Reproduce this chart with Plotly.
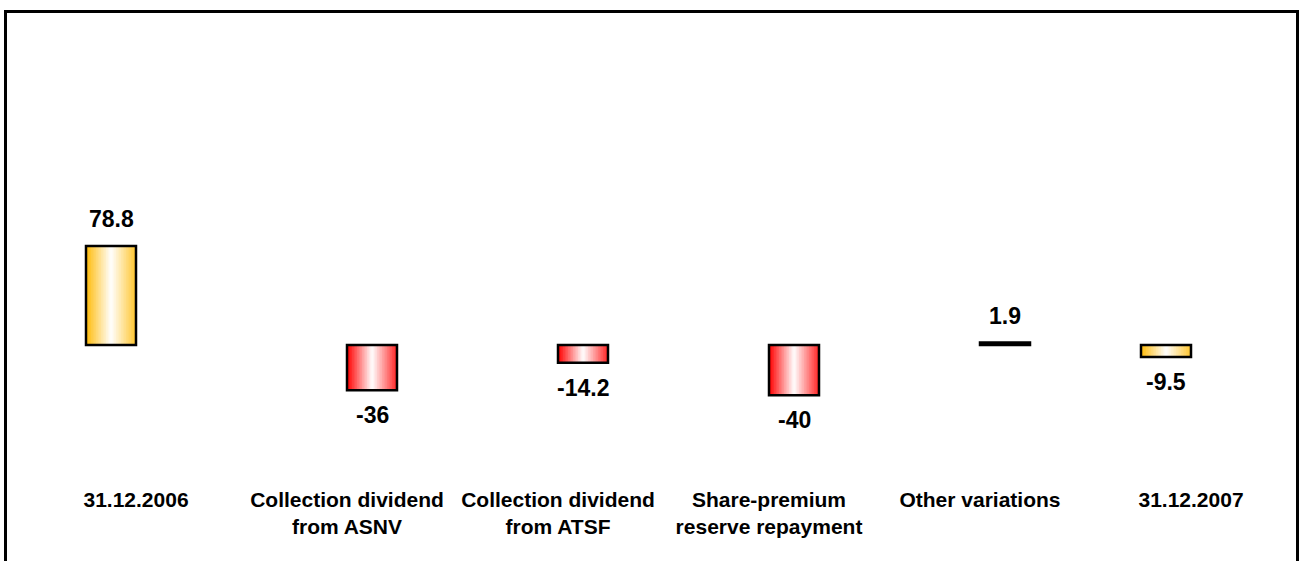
import plotly.graph_objects as go

# ---- data ----
categories = [
    "31.12.2006",
    "Collection dividend<br>from ASNV",
    "Collection dividend<br>from ATSF",
    "Share-premium<br>reserve repayment",
    "Other variations",
    "31.12.2007",
]
values = [78.8, -36, -14.2, -40, 1.9, -9.5]
value_labels = ["78.8", "-36", "-14.2", "-40", "1.9", "-9.5"]
series = ["total", "change", "change", "change", "change", "total"]

# ---- styling ----
FONT = "Liberation Sans, Arial, sans-serif"
FIG_W, FIG_H = 1300, 561
SLOT = 211.0                 # category slot width in px
FIRST_CENTER = 136.0         # px position of first category centre
BAR_W = 50 / SLOT            # bar width in category units
N_SLICES = 30
base_rgb = {"total": (255, 190, 20), "change": (255, 10, 10)}
# totals sit left of the category centre, changes right of it
base_off = [(-BAR_W if s == "total" else 0.0) for s in series]
idx = list(range(len(categories)))


def mix(rgb, a):
    r, g, b = rgb
    return "rgb(%d,%d,%d)" % (
        round(255 + (r - 255) * a),
        round(255 + (g - 255) * a),
        round(255 + (b - 255) * a),
    )


fig = go.Figure()

s = BAR_W / N_SLICES
for k in range(N_SLICES):
    t = (k + 0.5) / N_SLICES
    d = abs(t - 0.5) * 2
    side = 1.0 if t < 0.5 else 0.85
    a = min(1.0, d * side * 1.05)
    colors = [mix(base_rgb[sr], a) for sr in series]
    w = s if k == N_SLICES - 1 else s * 1.4
    fig.add_trace(go.Bar(
        x=idx, y=values,
        offset=[o + k * s for o in base_off],
        width=[w] * len(idx),
        marker=dict(color=colors, line=dict(width=0)),
        hoverinfo="skip", showlegend=False,
    ))

# outline
fig.add_trace(go.Bar(
    x=idx, y=values,
    offset=base_off,
    width=[BAR_W] * len(idx),
    marker=dict(color="rgba(0,0,0,0)", line=dict(color="black", width=2.5)),
    hoverinfo="skip", showlegend=False,
))

annotations = []
for j, v in enumerate(values):
    annotations.append(dict(
        x=j + base_off[j] + BAR_W / 2, y=v, xref="x", yref="y",
        text="<b>%s</b>" % value_labels[j], showarrow=False,
        yanchor="bottom" if v > 0 else "top",
        yshift=12 if v > 0 else -10,
        font=dict(family=FONT, size=23, color="black"),
    ))

zero_px = 345.0
px_per_unit = 1.257

fig.update_layout(
    width=FIG_W, height=FIG_H,
    margin=dict(l=0, r=0, t=0, b=0),
    barmode="overlay",
    showlegend=False,
    plot_bgcolor="white", paper_bgcolor="white",
    xaxis=dict(
        range=[-FIRST_CENTER / SLOT, (FIG_W - FIRST_CENTER) / SLOT],
        tickvals=idx,
        ticktext=["<b>%s</b>" % c for c in categories],
        tickfont=dict(family=FONT, size=21, color="black"),
        showgrid=False, zeroline=False, showline=False, ticks="",
        anchor="free", position=1 - 485 / FIG_H,
        fixedrange=True,
    ),
    yaxis=dict(range=[-(FIG_H - zero_px) / px_per_unit, zero_px / px_per_unit],
               visible=False, fixedrange=True),
    annotations=annotations,
    shapes=[dict(
        type="rect", xref="paper", yref="paper",
        x0=5.5 / FIG_W, x1=1297.5 / FIG_W, y0=-0.1, y1=1 - 11.5 / FIG_H,
        line=dict(color="black", width=3), fillcolor="rgba(0,0,0,0)",
    )],
)

fig.write_html(
    "out.html",
    config={"displayModeBar": False},
    post_script="document.body.style.margin='0';document.body.style.overflow='hidden';",
)
